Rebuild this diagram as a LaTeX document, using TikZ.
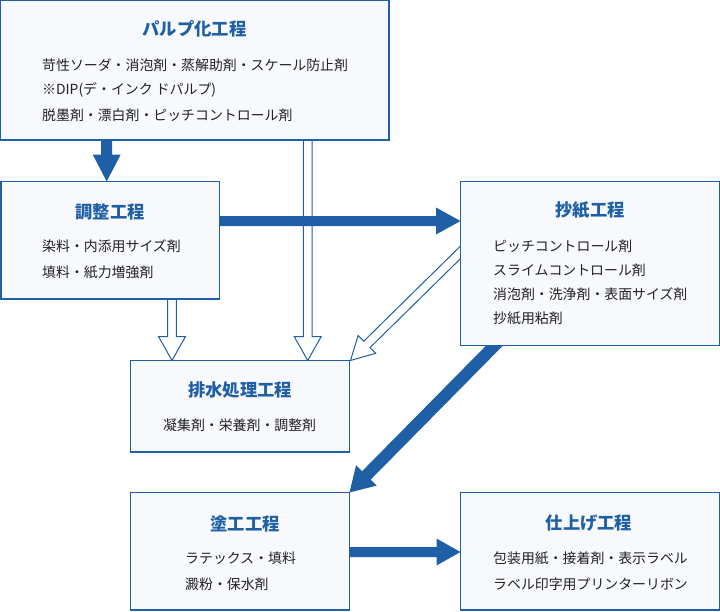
\documentclass[tikz,border=0pt]{standalone}
\usepackage{fontspec}
\setmainfont{Noto Sans CJK JP}
\usetikzlibrary{calc}
\definecolor{mblue}{HTML}{1F5FA6}
\definecolor{boxfill}{HTML}{F7F9FC}
\definecolor{ink}{HTML}{222222}
\pgfdeclarelayer{bg}
\pgfsetlayers{bg,main}
% #1 style, #2 start, #3 tip, #4 shaft half width, #5 head half width, #6 head length
\newcommand\blockarrow[6]{%
  \path[#1] ($(#2)!#4!90:(#3)$)
    -- ($(#3)!#6!(#2)!#4!-90:(#2)$)
    -- ($(#3)!#6!(#2)!#5!-90:(#2)$)
    -- (#3)
    -- ($(#3)!#6!(#2)!#5!90:(#2)$)
    -- ($(#3)!#6!(#2)!#4!90:(#2)$)
    -- ($(#2)!#4!-90:(#3)$) -- cycle;}
\begin{document}
\begin{tikzpicture}[x=1pt,y=-1pt,
  box/.style={draw=mblue, line width=1.3pt, fill=boxfill, anchor=north west, inner sep=0pt, outer sep=0pt},
  ttl/.style={font=\fontsize{17.3}{20}\selectfont\bfseries, text=mblue, inner sep=0pt},
  txt/.style={font=\fontsize{13.9}{16}\selectfont, text=ink, anchor=west, inner sep=0pt},
  solidarrow/.style={fill=mblue},
  hollowarrow/.style={draw=mblue, line width=1pt, fill=white, line join=miter}]
\useasboundingbox (0,0) rectangle (720,611);
% boxes
\node[box, minimum width=388.3pt, minimum height=139.3pt] (pulp) at (0.7,0.7) {};
\node[box, minimum width=218.3pt, minimum height=117.5pt] (adj) at (1,181.5) {};
\node[box, minimum width=258.8pt, minimum height=164pt] (paper) at (460.5,181.5) {};
\node[box, minimum width=219pt, minimum height=91.5pt] (waste) at (130.5,360.5) {};
\node[box, minimum width=219pt, minimum height=117.5pt] (coat) at (130.5,492.5) {};
\node[box, minimum width=258.8pt, minimum height=117.5pt] (finish) at (460.5,492.5) {};
% connector end points
\coordinate (a1s) at ($(pulp.south west)+(106,-10)$);
\coordinate (a1e) at (a1s |- adj.north);
\coordinate (a2s) at ($(pulp.south west)+(307,-10)$);
\coordinate (a2e) at (a2s |- waste.north);
\coordinate (a3s) at ($(adj.south west)+(171,-10)$);
\coordinate (a3e) at (a3s |- waste.north);
\coordinate (a4s) at ($(adj.north east)+(-10,39.5)$);
\coordinate (a4e) at (a4s -| paper.west);
\coordinate (a5s) at (471,242);
\coordinate (a5e) at ($(waste.north east)+(1,0)$);
\coordinate (a6s) at (505,335);
\coordinate (a6e) at (coat.north east);
\coordinate (a7s) at ($(coat.north east)+(-10,59.5)$);
\coordinate (a7e) at (a7s -| finish.west);
\begin{pgfonlayer}{bg}
\blockarrow{solidarrow}{a1s}{a1e}{5.5pt}{14pt}{27pt}
\blockarrow{hollowarrow}{a2s}{a2e}{4.4pt}{13.5pt}{24pt}
\blockarrow{hollowarrow}{a3s}{a3e}{4.4pt}{13.5pt}{24pt}
\blockarrow{solidarrow}{a4s}{a4e}{5pt}{13.5pt}{24.5pt}
\blockarrow{hollowarrow}{a5s}{a5e}{4.5pt}{12.5pt}{23pt}
\blockarrow{solidarrow}{a6s}{a6e}{6pt}{14.5pt}{24pt}
\blockarrow{solidarrow}{a7s}{a7e}{5pt}{13.5pt}{24pt}
\end{pgfonlayer}
% texts
\node[ttl] (pulpT) at (194.5,29) {パルプ化工程};
\node[txt] (pulp1) at (42,65) {苛性ソーダ・消泡剤・蒸解助剤・スケール防止剤};
\node[txt] (pulp2) at (42,90) {※DIP(デ・インク ドパルプ)};
\node[txt] (pulp3) at (42,115) {脱墨剤・漂白剤・ピッチコントロール剤};
\node[ttl] (adjT) at (110,211.5) {調整工程};
\node[txt] (adj1) at (42,246.5) {染料・内添用サイズ剤};
\node[txt] (adj2) at (42,272) {填料・紙力増強剤};
\node[ttl] (paperT) at (590,210.5) {抄紙工程};
\node[txt] (paper1) at (493,246) {ピッチコントロール剤};
\node[txt] (paper2) at (493,270) {スライムコントロール剤};
\node[txt] (paper3) at (493,294) {消泡剤・洗浄剤・表面サイズ剤};
\node[txt] (paper4) at (493,318.5) {抄紙用粘剤};
\node[ttl] (wasteT) at (240,389.5) {排水処理工程};
\node[txt] (waste1) at (163,425) {凝集剤・栄養剤・調整剤};
\node[ttl] (coatT) at (245,523.5) {塗工工程};
\node[txt] (coat1) at (185,558.5) {ラテックス・填料};
\node[txt] (coat2) at (185,584) {澱粉・保水剤};
\node[ttl] (finishT) at (589,523.5) {仕上げ工程};
\node[txt] (finish1) at (493,558.5) {包装用紙・接着剤・表示ラベル};
\node[txt] (finish2) at (493,584) {ラベル印字用プリンターリボン};
\end{tikzpicture}
\end{document}
